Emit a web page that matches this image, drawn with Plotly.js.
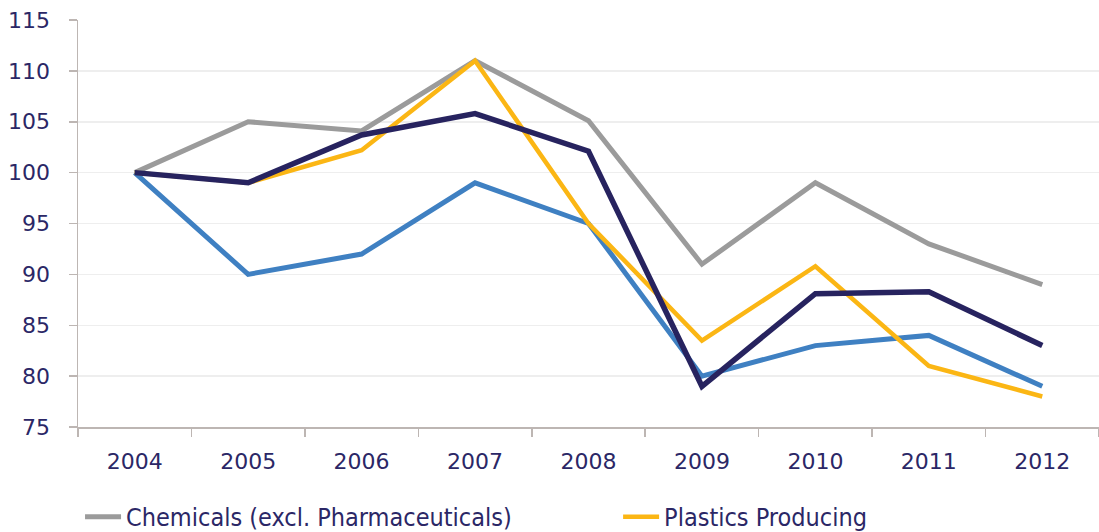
<!DOCTYPE html>
<html>
<head>
<meta charset="utf-8">
<script src="https://cdn.plot.ly/plotly-3.0.1.min.js"></script>
<style>html,body{margin:0;padding:0;background:#fff;}#chart{width:1099px;height:532px;}</style>
</head>
<body>
<div id="chart"></div>
<script>
var years = ['2004','2005','2006','2007','2008','2009','2010','2011','2012'];
var chemicals = [100, 105, 104.1, 111, 105.1, 91, 99, 93, 89];
var plasticsProducing = [100, 99, 102.2, 111, 95, 83.5, 90.8, 81, 78];
var plasticsConverting = [100, 99, 103.7, 105.8, 102.1, 79, 88.1, 88.3, 83];
var manufacturing = [100, 90, 92, 99, 95, 80, 83, 84, 79];
var yTicks = [75, 80, 85, 90, 95, 100, 105, 110, 115];

var textColor = '#2b2766';
var traces = [
  {x: years, y: manufacturing, name: 'Manufacturing', showlegend: false, mode: 'lines', line: {color: '#3f80c2', width: 5}},
  {x: years, y: chemicals, name: 'Chemicals (excl. Pharmaceuticals)', legend: 'legend', mode: 'lines', line: {color: '#9b9b9b', width: 5}},
  {x: years, y: plasticsProducing, name: 'Plastics Producing', legend: 'legend2', mode: 'lines', line: {color: '#fbb614', width: 4.5}},
  {x: years, y: plasticsConverting, name: 'Plastics Converting', showlegend: false, mode: 'lines', line: {color: '#27235f', width: 5.5}}
];

var legendFont = {family: 'DejaVu Sans Condensed, DejaVu Sans, sans-serif', size: 25, color: textColor};
var layout = {
  width: 1099, height: 532,
  margin: {l: 78, r: 0, t: 20, b: 105, autoexpand: false},
  paper_bgcolor: '#ffffff', plot_bgcolor: '#ffffff',
  font: {family: 'DejaVu Sans, Verdana, sans-serif', size: 22, color: textColor},
  xaxis: {
    type: 'category', range: [-0.5, 8.5], tickson: 'boundaries',
    showgrid: false, showline: true, linecolor: '#bdb6b3', linewidth: 1.5,
    ticks: 'outside', ticklen: 8, tickcolor: '#bdb6b3', tickwidth: 1.5,
    ticklabelstandoff: 14, tickfont: {size: 22, color: textColor}, zeroline: false, fixedrange: true
  },
  yaxis: {
    range: [75, 115], tickvals: yTicks, ticktext: yTicks.map(String),
    showgrid: true, gridcolor: '#eeeeee', gridwidth: 1.5,
    showline: true, linecolor: '#bdb6b3', linewidth: 1.5,
    ticks: 'outside', ticklen: 8, tickcolor: '#bdb6b3', tickwidth: 1.5,
    ticklabelstandoff: 14, tickfont: {size: 22, color: textColor}, zeroline: false, fixedrange: true
  },
  showlegend: true,
  legend: {
    orientation: 'h', x: 0.002, xanchor: 'left', y: -0.221, yanchor: 'middle',
    font: legendFont, bgcolor: 'rgba(0,0,0,0)', itemwidth: 36
  },
  legend2: {
    orientation: 'h', x: 0.529, xanchor: 'left', y: -0.221, yanchor: 'middle',
    font: legendFont, bgcolor: 'rgba(0,0,0,0)', itemwidth: 36
  }
};

Plotly.newPlot('chart', traces, layout, {displayModeBar: false, staticPlot: true});
</script>
</body>
</html>
